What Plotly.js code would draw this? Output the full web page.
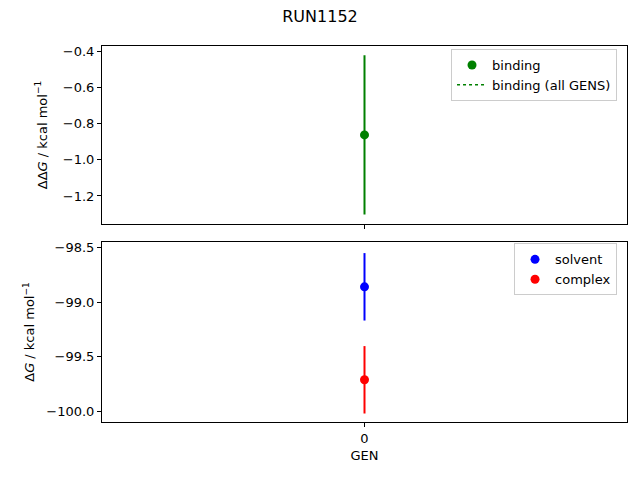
<!DOCTYPE html>
<html>
<head>
<meta charset="utf-8">
<script src="https://cdn.plot.ly/plotly-3.0.1.min.js"></script>
<style>html,body{margin:0;padding:0;background:#fff;}#chart{width:640px;height:480px;}</style>
</head>
<body>
<div id="chart"></div>
<script>
const gens = [0];
const bindingMean = [-0.863];
const bindingErr = [0.44];
const solventMean = [-98.858];
const solventErr = [0.31];
const complexMean = [-99.713];
const complexErr = [0.31];
const xTickVals = [0];
const xTickText = ['0'];

const FONT = 'DejaVu Sans, sans-serif';

const traces = [
  {x: gens, y: bindingMean, type: 'scatter', mode: 'markers', name: 'binding',
   marker: {color: 'green', size: 9},
   error_y: {type: 'data', array: bindingErr, visible: true, color: 'green', thickness: 2, width: 0},
   xaxis: 'x', yaxis: 'y', legend: 'legend'},
  {x: [null], y: [null], type: 'scatter', mode: 'lines', name: 'binding (all GENS)',
   line: {color: 'green', dash: 'dot', width: 1.5},
   xaxis: 'x', yaxis: 'y', legend: 'legend'},
  {x: gens, y: solventMean, type: 'scatter', mode: 'markers', name: 'solvent',
   marker: {color: 'blue', size: 9},
   error_y: {type: 'data', array: solventErr, visible: true, color: 'blue', thickness: 2, width: 0},
   xaxis: 'x2', yaxis: 'y2', legend: 'legend2'},
  {x: gens, y: complexMean, type: 'scatter', mode: 'markers', name: 'complex',
   marker: {color: 'red', size: 9},
   error_y: {type: 'data', array: complexErr, visible: true, color: 'red', thickness: 2, width: 0},
   xaxis: 'x2', yaxis: 'y2', legend: 'legend2'}
];

const axisCommon = {
  showgrid: false, zeroline: false, showline: true, mirror: true,
  linecolor: 'black', linewidth: 1, ticks: 'outside', ticklen: 4, tickwidth: 1,
  tickcolor: 'black', tickfont: {family: FONT, size: 13, color: 'black'}
};

const legendCommon = {
  bgcolor: 'rgba(255,255,255,0.8)', bordercolor: '#cccccc', borderwidth: 1,
  font: {family: FONT, size: 13, color: 'black'},
  xanchor: 'right', yanchor: 'top', tracegroupgap: 0
};

const layout = {
  width: 640, height: 480,
  paper_bgcolor: 'white', plot_bgcolor: 'white',
  margin: {l: 102, r: 13, t: 46, b: 58},
  font: {family: FONT, size: 13, color: 'black'},
  title: {text: 'RUN1152', font: {family: FONT, size: 16, color: 'black'}, x: 0.5, xanchor: 'center', y: 0.965, yanchor: 'middle'},
  xaxis: Object.assign({}, axisCommon, {domain: [0, 1], anchor: 'y', range: [-0.055, 0.055],
    tickvals: xTickVals, ticktext: xTickText, showticklabels: false, matches: 'x2'}),
  yaxis: Object.assign({}, axisCommon, {domain: [0.527, 1], anchor: 'x', range: [-1.354, -0.372],
    dtick: 0.2, tickformat: '.1f',
    title: {text: 'ΔΔ<i>G</i> / kcal mol<sup>−1</sup>', font: {family: FONT, size: 13, color: 'black'}, standoff: 12}}),
  xaxis2: Object.assign({}, axisCommon, {domain: [0, 1], anchor: 'y2', range: [-0.055, 0.055],
    tickvals: xTickVals, ticktext: xTickText,
    title: {text: 'GEN', font: {family: FONT, size: 13, color: 'black'}, standoff: 6}}),
  yaxis2: Object.assign({}, axisCommon, {domain: [0, 0.479], anchor: 'x2', range: [-100.101, -98.445],
    dtick: 0.5, tickformat: '.1f',
    title: {text: 'Δ<i>G</i> / kcal mol<sup>−1</sup>', font: {family: FONT, size: 13, color: 'black'}, standoff: 8}}),
  legend: Object.assign({}, legendCommon, {x: 0.981, y: 0.992}),
  legend2: Object.assign({}, legendCommon, {x: 0.981, y: 0.475}),
  showlegend: true
};

Plotly.newPlot('chart', traces, layout, {displayModeBar: false, staticPlot: true});
</script>
</body>
</html>
